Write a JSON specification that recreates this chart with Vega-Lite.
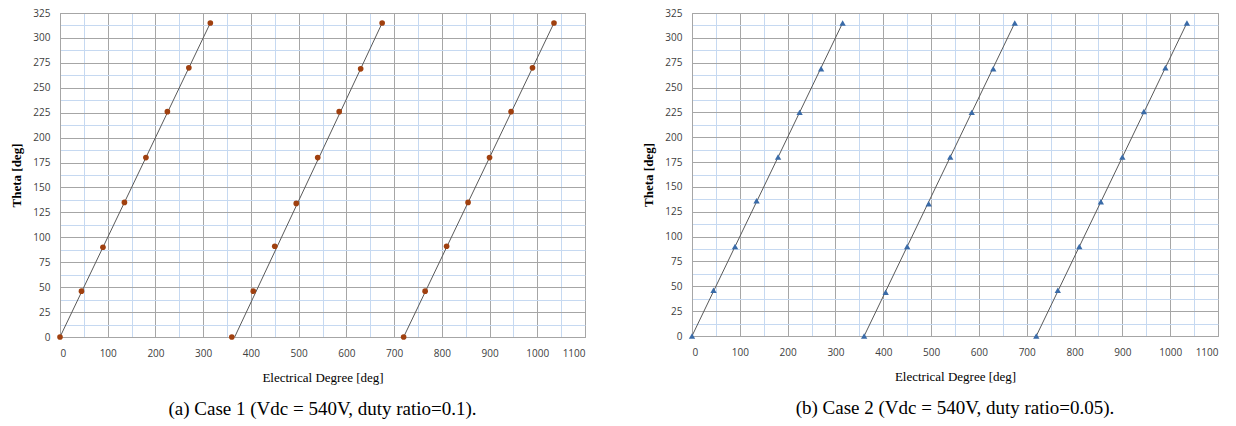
{
  "$schema": "https://vega.github.io/schema/vega-lite/v6.json",
  "padding": {"left": 10, "top": 7, "right": 5, "bottom": 0},
  "background": "white",
  "spacing": 56,
  "config": {
    "view": {"stroke": "#a6a6a6", "strokeWidth": 1},
    "axis": {
      "labelFont": "Open Sans",
      "labelFontSize": 10,
      "labelColor": "#404040",
      "titleFont": "Liberation Serif",
      "titleFontSize": 13,
      "titleColor": "#000000",
      "domainColor": "#a6a6a6",
      "ticks": false,
      "gridOpacity": 1,
      "gridWidth": 1
    },
    "title": {"font": "Liberation Serif", "fontSize": 19, "fontWeight": "normal", "color": "#000000", "orient": "bottom", "anchor": "middle", "frame": "group", "offset": 16}
  },
  "datasets": {
    "pts": [
      {"panel": "a", "seg": 1, "x": 0, "theta": 0},
      {"panel": "a", "seg": 1, "x": 45, "theta": 46},
      {"panel": "a", "seg": 1, "x": 90, "theta": 90},
      {"panel": "a", "seg": 1, "x": 135, "theta": 135},
      {"panel": "a", "seg": 1, "x": 180, "theta": 180},
      {"panel": "a", "seg": 1, "x": 225, "theta": 226},
      {"panel": "a", "seg": 1, "x": 270, "theta": 270},
      {"panel": "a", "seg": 1, "x": 315, "theta": 315},
      {"panel": "a", "seg": 2, "x": 360, "theta": 0},
      {"panel": "a", "seg": 2, "x": 405, "theta": 46},
      {"panel": "a", "seg": 2, "x": 450, "theta": 91},
      {"panel": "a", "seg": 2, "x": 495, "theta": 134},
      {"panel": "a", "seg": 2, "x": 540, "theta": 180},
      {"panel": "a", "seg": 2, "x": 585, "theta": 226},
      {"panel": "a", "seg": 2, "x": 630, "theta": 269},
      {"panel": "a", "seg": 2, "x": 675, "theta": 315},
      {"panel": "a", "seg": 3, "x": 720, "theta": 0},
      {"panel": "a", "seg": 3, "x": 765, "theta": 46},
      {"panel": "a", "seg": 3, "x": 810, "theta": 91},
      {"panel": "a", "seg": 3, "x": 855, "theta": 135},
      {"panel": "a", "seg": 3, "x": 900, "theta": 180},
      {"panel": "a", "seg": 3, "x": 945, "theta": 226},
      {"panel": "a", "seg": 3, "x": 990, "theta": 270},
      {"panel": "a", "seg": 3, "x": 1035, "theta": 315},
      {"panel": "b", "seg": 1, "x": 0, "theta": 0},
      {"panel": "b", "seg": 1, "x": 45, "theta": 46},
      {"panel": "b", "seg": 1, "x": 90, "theta": 90},
      {"panel": "b", "seg": 1, "x": 135, "theta": 136},
      {"panel": "b", "seg": 1, "x": 180, "theta": 180},
      {"panel": "b", "seg": 1, "x": 225, "theta": 225},
      {"panel": "b", "seg": 1, "x": 270, "theta": 269},
      {"panel": "b", "seg": 1, "x": 315, "theta": 315},
      {"panel": "b", "seg": 2, "x": 360, "theta": 0},
      {"panel": "b", "seg": 2, "x": 405, "theta": 44},
      {"panel": "b", "seg": 2, "x": 450, "theta": 90},
      {"panel": "b", "seg": 2, "x": 495, "theta": 133},
      {"panel": "b", "seg": 2, "x": 540, "theta": 180},
      {"panel": "b", "seg": 2, "x": 585, "theta": 225},
      {"panel": "b", "seg": 2, "x": 630, "theta": 269},
      {"panel": "b", "seg": 2, "x": 675, "theta": 315},
      {"panel": "b", "seg": 3, "x": 720, "theta": 0},
      {"panel": "b", "seg": 3, "x": 765, "theta": 46},
      {"panel": "b", "seg": 3, "x": 810, "theta": 90},
      {"panel": "b", "seg": 3, "x": 855, "theta": 135},
      {"panel": "b", "seg": 3, "x": 900, "theta": 180},
      {"panel": "b", "seg": 3, "x": 945, "theta": 226},
      {"panel": "b", "seg": 3, "x": 990, "theta": 270},
      {"panel": "b", "seg": 3, "x": 1035, "theta": 315}
    ],
    "lines": [
      {"panel": "a", "seg": 1, "x": 0, "theta": 0},
      {"panel": "a", "seg": 1, "x": 315, "theta": 315},
      {"panel": "a", "seg": 2, "x": 366, "theta": 0},
      {"panel": "a", "seg": 2, "x": 675, "theta": 315},
      {"panel": "a", "seg": 3, "x": 720, "theta": 0},
      {"panel": "a", "seg": 3, "x": 1035, "theta": 315},
      {"panel": "b", "seg": 1, "x": 0, "theta": 0},
      {"panel": "b", "seg": 1, "x": 315, "theta": 315},
      {"panel": "b", "seg": 2, "x": 360, "theta": 0},
      {"panel": "b", "seg": 2, "x": 675, "theta": 315},
      {"panel": "b", "seg": 3, "x": 720, "theta": 0},
      {"panel": "b", "seg": 3, "x": 1035, "theta": 315}
    ]
  },
  "hconcat": [
    {
      "width": 525,
      "height": 324,
      "title": "(a) Case 1 (Vdc = 540V, duty ratio=0.1).",
      "encoding": {
        "x": {"field": "x", "type": "quantitative", "title": "Electrical Degree [deg]",
          "scale": {"domain": [0, 1100], "nice": false, "zero": false},
          "axis": {"values": [0,50,100,150,200,250,300,350,400,450,500,550,600,650,700,750,800,850,900,950,1000,1050,1100],
            "labelExpr": "datum.value % 100 === 0 ? datum.label : ''",
            "format": "d", "labelPadding": 11, "titlePadding": 13, "titleFontWeight": "normal",
            "gridColor": {"condition": {"test": "datum.value % 100 === 0", "value": "#a6a6a6"}, "value": "#c6d9f1"}}},
        "y": {"field": "theta", "type": "quantitative", "title": "Theta [deg]",
          "scale": {"domain": [0, 325], "nice": false},
          "axis": {"values": [0,12.5,25,37.5,50,62.5,75,87.5,100,112.5,125,137.5,150,162.5,175,187.5,200,212.5,225,237.5,250,262.5,275,287.5,300,312.5,325],
            "labelExpr": "datum.value % 25 === 0 ? datum.value : ''",
            "labelPadding": 10, "titlePadding": 9, "titleFontWeight": "bold",
            "gridColor": {"condition": {"test": "datum.value % 25 === 0", "value": "#a6a6a6"}, "value": "#c6d9f1"}}}
      },
      "layer": [
        {"data": {"name": "lines"}, "transform": [{"filter": "datum.panel === 'a'"}],
          "mark": {"type": "line", "color": "#595959", "strokeWidth": 1},
          "encoding": {"detail": {"field": "seg"}}},
        {"data": {"name": "pts"}, "transform": [{"filter": "datum.panel === 'a'"}],
          "mark": {"type": "point", "shape": "circle", "filled": true, "color": "#a0400f", "size": 32, "opacity": 1}}
      ]
    },
    {
      "width": 526,
      "height": 323,
      "title": "(b) Case 2 (Vdc = 540V, duty ratio=0.05).",
      "encoding": {
        "x": {"field": "x", "type": "quantitative", "title": "Electrical Degree [deg]",
          "scale": {"domain": [0, 1100], "nice": false, "zero": false},
          "axis": {"values": [0,50,100,150,200,250,300,350,400,450,500,550,600,650,700,750,800,850,900,950,1000,1050,1100],
            "labelExpr": "datum.value % 100 === 0 ? datum.label : ''",
            "format": "d", "labelPadding": 11, "titlePadding": 13, "titleFontWeight": "normal",
            "gridColor": {"condition": {"test": "datum.value % 100 === 0", "value": "#a6a6a6"}, "value": "#c6d9f1"}}},
        "y": {"field": "theta", "type": "quantitative", "title": "Theta [deg]",
          "scale": {"domain": [0, 325], "nice": false},
          "axis": {"values": [0,12.5,25,37.5,50,62.5,75,87.5,100,112.5,125,137.5,150,162.5,175,187.5,200,212.5,225,237.5,250,262.5,275,287.5,300,312.5,325],
            "labelExpr": "datum.value % 25 === 0 ? datum.value : ''",
            "labelPadding": 10, "titlePadding": 9, "titleFontWeight": "bold",
            "gridColor": {"condition": {"test": "datum.value % 25 === 0", "value": "#a6a6a6"}, "value": "#c6d9f1"}}}
      },
      "layer": [
        {"data": {"name": "lines"}, "transform": [{"filter": "datum.panel === 'b'"}],
          "mark": {"type": "line", "color": "#595959", "strokeWidth": 1},
          "encoding": {"detail": {"field": "seg"}}},
        {"data": {"name": "pts"}, "transform": [{"filter": "datum.panel === 'b'"}],
          "mark": {"type": "point", "shape": "triangle-up", "filled": true, "color": "#3a6ba8", "size": 40, "opacity": 1}}
      ]
    }
  ]
}
